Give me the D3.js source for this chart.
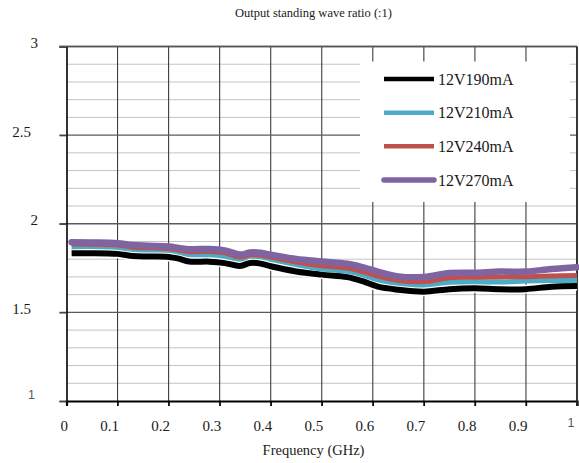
<!DOCTYPE html>
<html>
<head>
<meta charset="utf-8">
<script src="https://cdn.jsdelivr.net/npm/d3@7"></script>
<style>
  body { margin: 0; background: #fff; }
  svg { display: block; }
</style>
</head>
<body>
<svg id="chart" width="579" height="463"></svg>
<script>
// Frequency sweep points (GHz)
const frequency = [0.01, 0.05, 0.10, 0.13, 0.16, 0.20, 0.22, 0.24, 0.28, 0.31, 0.34, 0.36, 0.38, 0.40,
                   0.45, 0.50, 0.55, 0.58, 0.61, 0.65, 0.70, 0.75, 0.80, 0.85, 0.90, 0.95, 1.00];

// Output VSWR (:1) for each bias condition
const vswr190 = [1.833, 1.834, 1.830, 1.818, 1.815, 1.813, 1.803, 1.787, 1.786, 1.778, 1.762, 1.779, 1.775, 1.760,
                 1.731, 1.713, 1.699, 1.676, 1.645, 1.628, 1.617, 1.631, 1.636, 1.630, 1.631, 1.645, 1.649];
const vswr210 = [1.870, 1.871, 1.866, 1.855, 1.852, 1.850, 1.840, 1.826, 1.825, 1.817, 1.800, 1.816, 1.813, 1.800,
                 1.770, 1.744, 1.732, 1.712, 1.683, 1.664, 1.654, 1.670, 1.673, 1.671, 1.677, 1.680, 1.680];
const vswr240 = [1.886, 1.885, 1.880, 1.868, 1.864, 1.861, 1.852, 1.842, 1.844, 1.836, 1.813, 1.825, 1.823, 1.812,
                 1.784, 1.763, 1.750, 1.730, 1.705, 1.680, 1.673, 1.695, 1.698, 1.700, 1.701, 1.705, 1.708];
const vswr270 = [1.895, 1.894, 1.890, 1.880, 1.876, 1.872, 1.864, 1.856, 1.858, 1.850, 1.826, 1.838, 1.836, 1.826,
                 1.801, 1.787, 1.774, 1.755, 1.730, 1.703, 1.700, 1.722, 1.724, 1.730, 1.730, 1.745, 1.755];

const seriesNames = ["12V190mA", "12V210mA", "12V240mA", "12V270mA"];
const seriesValues = [vswr190, vswr210, vswr240, vswr270];

const xTicks = [0, 0.1, 0.2, 0.3, 0.4, 0.5, 0.6, 0.7, 0.8, 0.9, 1];
const yTicks = [1, 1.5, 2, 2.5, 3];

const chartTitle = "Output standing wave ratio (:1)";
const xTitle = "Frequency (GHz)";

// ---- layout & styles ----
const plot = { left: 66.5, right: 577, top: 46.5, bottom: 401 };
const serif = "'Liberation Serif', 'Times New Roman', serif";
const sans = "'Liberation Sans', Arial, sans-serif";
const styles = [
  { color: "#000000", width: 6,   casing: 9, cap: "butt",  legendWidth: 4.5 },
  { color: "#4bacc6", width: 5,   casing: 0, cap: "butt",  legendWidth: 4.5 },
  { color: "#c0504d", width: 5,   casing: 0, cap: "butt",  legendWidth: 4.5 },
  { color: "#8064a2", width: 6.5, casing: 0, cap: "round", legendWidth: 5.5 }
];

const svg = d3.select("#chart");

const x = d3.scaleLinear().domain([0, 1]).range([plot.left, plot.right]);
const y = d3.scaleLinear().domain([1, 3]).range([plot.bottom, plot.top]);

// minor horizontal gridlines every 0.1
const grid = svg.append("g");
grid.selectAll("line.minor")
  .data(y.ticks(20).filter(v => !yTicks.includes(+v.toFixed(2))))
  .join("line")
  .attr("x1", plot.left).attr("x2", plot.right)
  .attr("y1", d => y(d)).attr("y2", d => y(d))
  .attr("stroke", "#c4c4c4").attr("stroke-width", 1);

// vertical gridlines with ticks below the axis
grid.selectAll("line.vert")
  .data(xTicks.slice(1, -1))
  .join("line")
  .attr("x1", d => x(d)).attr("x2", d => x(d))
  .attr("y1", plot.top).attr("y2", plot.bottom + 5)
  .attr("stroke", "#3c3c3c").attr("stroke-width", 1.1);

// major horizontal gridlines extending left as ticks
grid.selectAll("line.major")
  .data(yTicks.slice(1))
  .join("line")
  .attr("x1", plot.left - 7).attr("x2", plot.right)
  .attr("y1", d => y(d)).attr("y2", d => y(d))
  .attr("stroke", "#5a5a5a").attr("stroke-width", 1.4);

// axes
const xAxis = svg.append("g")
  .attr("transform", `translate(0,${plot.bottom})`)
  .call(d3.axisBottom(x).tickValues(xTicks).tickSize(5).tickFormat(d => String(d)));
xAxis.select(".domain").attr("stroke", "#000").attr("stroke-width", 2.2);
xAxis.selectAll(".tick line").attr("stroke", "#000").attr("stroke-width", 1.4);
xAxis.selectAll(".tick text")
  .attr("text-anchor", "end")
  .attr("dy", 0)
  .attr("x", d => d === 1 ? -3 : 1)
  .attr("y", d => d === 1 ? 26 : 30)
  .attr("fill", d => d === 1 ? "#595959" : "#1a1a1a")
  .style("font-family", d => d === 1 ? sans : serif)
  .style("font-size", d => d === 1 ? "12.5px" : "15px");

const yAxis = svg.append("g")
  .attr("transform", `translate(${plot.left},0)`)
  .call(d3.axisLeft(y).tickValues(yTicks).tickSize(7).tickFormat(d => String(d)));
yAxis.select(".domain").attr("stroke", "#000").attr("stroke-width", 1.6);
yAxis.selectAll(".tick line").attr("stroke", "#444").attr("stroke-width", 1.4);
yAxis.selectAll(".tick text")
  .attr("text-anchor", "end")
  .attr("dy", 0)
  .attr("x", d => d === 1 ? -31.5 : (Number.isInteger(d) ? -28.5 : -35.5))
  .attr("y", d => d === 1 ? -3 : 1)
  .attr("fill", d => d === 1 ? "#595959" : "#1a1a1a")
  .style("font-family", d => d === 1 ? sans : serif)
  .style("font-size", d => d === 1 ? "12.5px" : "15px");

// top and right frame
svg.append("line")
  .attr("x1", plot.left - 7).attr("x2", plot.right)
  .attr("y1", plot.top).attr("y2", plot.top)
  .attr("stroke", "#555").attr("stroke-width", 1.6);
svg.append("line")
  .attr("x1", plot.right).attr("x2", plot.right)
  .attr("y1", plot.top).attr("y2", plot.bottom + 5)
  .attr("stroke", "#222").attr("stroke-width", 1.8);

// data lines
const line = d3.line()
  .x((d, i) => x(frequency[i]))
  .y(d => y(d))
  .curve(d3.curveCatmullRom.alpha(0.5));

const lines = svg.append("g");
seriesValues.forEach((vals, k) => {
  const s = styles[k];
  if (s.casing) {
    lines.append("path")
      .attr("d", line(vals))
      .attr("fill", "none")
      .attr("stroke", "#fff")
      .attr("stroke-width", s.casing)
      .attr("stroke-linejoin", "round");
  }
  lines.append("path")
    .attr("d", line(vals))
    .attr("fill", "none")
    .attr("stroke", s.color)
    .attr("stroke-width", s.width)
    .attr("stroke-linecap", s.cap)
    .attr("stroke-linejoin", "round");
});

// legend
const legend = svg.append("g");
legend.append("rect")
  .attr("x", 360).attr("y", 61.5)
  .attr("width", 210).attr("height", 140.5)
  .attr("fill", "#fff");

const ly = d3.scalePoint().domain(seriesNames).range([79, 180]);
seriesNames.forEach((name, k) => {
  const s = styles[k];
  legend.append("line")
    .attr("x1", 384).attr("x2", 434)
    .attr("y1", ly(name)).attr("y2", ly(name))
    .attr("stroke", s.color)
    .attr("stroke-width", s.legendWidth)
    .attr("stroke-linecap", s.cap === "round" ? "round" : "butt");
  legend.append("text")
    .attr("x", 438).attr("y", ly(name) + 5.5)
    .attr("fill", "#1a1a1a")
    .style("font-family", serif)
    .style("font-size", "16px")
    .text(name);
});

// titles
svg.append("text")
  .attr("x", 313.5).attr("y", 17)
  .attr("text-anchor", "middle")
  .attr("fill", "#1a1a1a")
  .style("font-family", serif)
  .style("font-size", "12.5px")
  .text(chartTitle);

svg.append("text")
  .attr("x", 313.5).attr("y", 455)
  .attr("text-anchor", "middle")
  .attr("fill", "#1a1a1a")
  .style("font-family", serif)
  .style("font-size", "14.5px")
  .text(xTitle);
</script>
</body>
</html>
